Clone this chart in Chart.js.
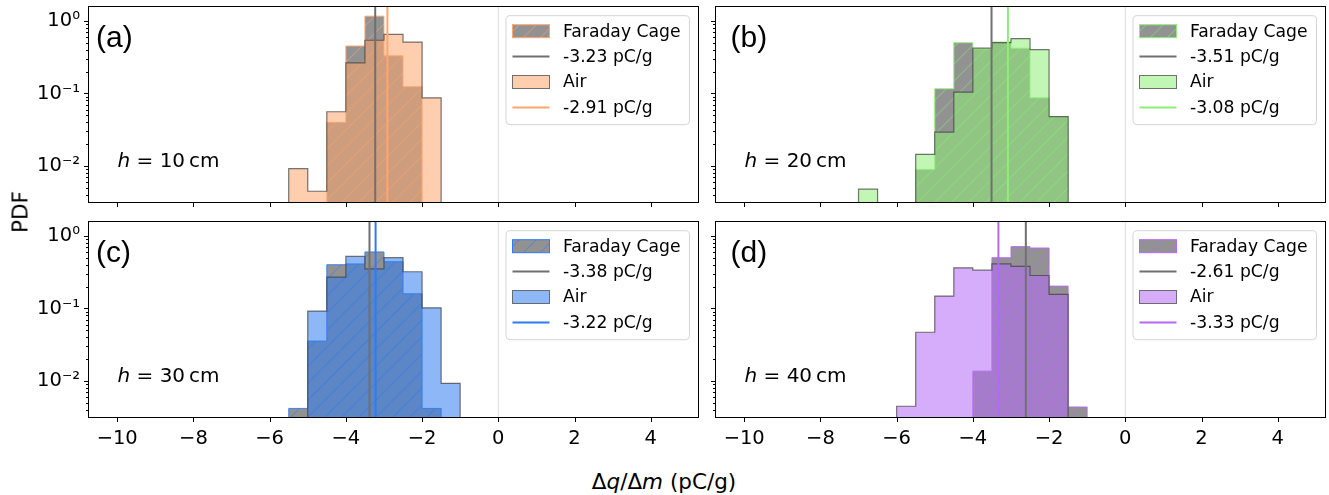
<!DOCTYPE html>
<html>
<head>
<meta charset="utf-8">
<script src="https://cdn.jsdelivr.net/npm/chart.js@4.4.0/dist/chart.umd.min.js"></script>
<style>
  html, body { margin: 0; padding: 0; background: #fff; }
  body { width: 1329px; height: 495px; position: relative; overflow: hidden; font-family: 'DejaVu Sans', sans-serif; }
  canvas { position: absolute; }
  .lbl { position: absolute; font-size: 21.5px; color: #000; white-space: nowrap; transform: translate(-50%, -50%); }
  #ylab { left: 20px; top: 212px; transform: translate(-50%, -50%) rotate(-90deg); }
  #xlab { left: 664px; top: 481px; }
</style>
</head>
<body>
<canvas id="pa" width="702" height="242" style="left:0px;top:0px"></canvas>
<canvas id="pb" width="702" height="242" style="left:627px;top:0px"></canvas>
<canvas id="pc" width="702" height="242" style="left:0px;top:215px"></canvas>
<canvas id="pd" width="702" height="242" style="left:627px;top:215px"></canvas>
<div class="lbl" id="ylab">PDF</div>
<div class="lbl" id="xlab">Δ<i>q</i>/Δ<i>m</i> (pC/g)</div>
<script>
// axes
const X_MIN = -10.74, X_MAX = 5.24;
const Y_MIN = 0.0032, Y_MAX = 1.55;
const X_TICKS = [-10, -8, -6, -4, -2, 0, 2, 4];
const Y_TICKS = [0.01, 0.1, 1];
const Y_TICK_LABELS = ['10⁻²', '10⁻¹', '10⁰'];
const FLOOR = 1e-4;  // below the axis, for empty bins

// (a) h = 10 cm
const EDGES_A = [-5.5, -5.0, -4.5, -4.0, -3.5, -3.0, -2.5, -2.0, -1.5];
const CAGE_A = [0, 0, 0.040, 0.45, 1.16, 0.33, 0.124, 0];
const AIR_A  = [0.0092, 0.0045, 0.056, 0.264, 0.54, 0.65, 0.51, 0.087];

// (b) h = 20 cm
const EDGES_B = [-7.0, -6.5, -6.0, -5.5, -5.0, -4.5, -4.0, -3.5, -3.0, -2.5, -2.0, -1.5];
const CAGE_B = [0, 0, 0, 0.009, 0.116, 0.50, 0.41, 0.51, 0.42, 0.087, 0.048];
const AIR_B  = [0.0048, 0, 0, 0.0145, 0.0294, 0.104, 0.42, 0.50, 0.57, 0.40, 0.048];

// (c) h = 30 cm
const EDGES_C = [-5.5, -5.0, -4.5, -4.0, -3.5, -3.0, -2.5, -2.0, -1.5, -1.0];
const CAGE_C = [0.0042, 0.0355, 0.40, 0.41, 0.60, 0.44, 0.159, 0.0042, 0];
const AIR_C  = [0, 0.092, 0.27, 0.52, 0.35, 0.50, 0.32, 0.102, 0.0093];

// (d) h = 40 cm
const EDGES_D = [-6.0, -5.5, -5.0, -4.5, -4.0, -3.5, -3.0, -2.5, -2.0, -1.5, -1.0];
const CAGE_D = [0, 0, 0, 0, 0.0137, 0.50, 0.71, 0.68, 0.203, 0.0044];
const AIR_D  = [0.0045, 0.047, 0.148, 0.363, 0.336, 0.41, 0.38, 0.284, 0.156, 0];

// means (pC/g)
const MEAN_CAGE = [-3.23, -3.51, -3.38, -2.61];
const MEAN_AIR  = [-2.91, -3.08, -3.22, -3.33];
const HEIGHTS_CM = [10, 20, 30, 40];
const TAGS = ['(a)', '(b)', '(c)', '(d)'];

// styles
const AIR_RGB = ['255,165,110', '144,238,120', '47,123,240', '180,105,245'];
const CAGE_FILL = 'rgba(110,110,110,0.75)';
const TICK_FONT = 19.5;
const LEGEND_FONT = 17.2;

Chart.defaults.font.family = "'DejaVu Sans'";
Chart.defaults.font.size = TICK_FONT;
Chart.defaults.color = '#000';

function stepPoints(edges, h) {
  const pts = [{ x: edges[0], y: FLOOR }];
  h.forEach((v, i) => pts.push({ x: edges[i], y: v > 0 ? v : FLOOR }));
  pts.push({ x: edges[edges.length - 1], y: FLOOR });
  return pts;
}

function vline(x) {
  return [{ x, y: FLOOR }, { x, y: 100 }];
}

function hatch(rgb) {
  const c = document.createElement('canvas');
  c.width = c.height = 17;
  const g = c.getContext('2d');
  g.fillStyle = CAGE_FILL;
  g.fillRect(0, 0, 17, 17);
  g.strokeStyle = `rgba(${rgb},0.45)`;
  g.lineWidth = 1.1;
  g.beginPath();
  [-17, 0, 17].forEach(o => { g.moveTo(o, 17); g.lineTo(o + 17, 0); });
  g.stroke();
  return g.createPattern(c, 'repeat');
}

// frame, tick marks, labels, legend
const deco = {
  id: 'deco',
  afterDraw(chart, args, o) {
    const { ctx, chartArea: a, scales: { x, y } } = chart;
    ctx.save();
    ctx.strokeStyle = '#000';
    ctx.lineWidth = 1;
    ctx.beginPath();
    X_TICKS.forEach(v => {
      const px = Math.round(x.getPixelForValue(v)) + 0.5;
      ctx.moveTo(px, a.bottom); ctx.lineTo(px, a.bottom + 5);
    });
    for (let k = -3; k <= 0; k++) {
      for (let m = 1; m <= 9; m++) {
        const v = m * Math.pow(10, k);
        if (v < Y_MIN || v > Y_MAX) continue;
        const py = Math.round(y.getPixelForValue(v)) + 0.5;
        ctx.moveTo(a.left, py); ctx.lineTo(a.left - (m === 1 ? 5 : 3), py);
      }
    }
    ctx.stroke();
    ctx.strokeRect(a.left - 0.5, a.top - 0.5, a.right - a.left + 1, a.bottom - a.top + 1);

    // panel tag
    ctx.fillStyle = '#000';
    ctx.textBaseline = 'alphabetic';
    ctx.textAlign = 'left';
    ctx.font = "30px 'Liberation Sans'";
    ctx.fillText(o.tag, a.left + o.tagDx, a.top + 40);

    // h = .. cm
    ctx.font = "italic 20px 'DejaVu Sans'";
    const hx = a.left + 28.5, hy = a.top + 159.5;
    ctx.fillText('h', hx, hy);
    const hw = ctx.measureText('h').width;
    ctx.font = "20px 'DejaVu Sans'";
    ctx.fillText(' = ' + o.height + '\u2009cm', hx + hw, hy);

    // legend
    const bw = 183.5, bh = 109;
    const bx = a.right - 8.5 - bw, by = a.top + 8.7;
    ctx.beginPath();
    ctx.roundRect(bx, by, bw, bh, 4);
    ctx.fillStyle = 'rgba(255,255,255,0.8)';
    ctx.fill();
    ctx.strokeStyle = '#d4d4d4';
    ctx.stroke();
    const rows = [
      { kind: 'patch', fill: o.pattern, edge: `rgb(${o.rgb})`, text: 'Faraday Cage' },
      { kind: 'line', color: '#707070', text: o.meanCage.toFixed(2) + ' pC/g' },
      { kind: 'patch', fill: `rgba(${o.rgb},0.55)`, edge: 'rgba(70,70,70,0.75)', text: 'Air' },
      { kind: 'line', color: `rgb(${o.rgb})`, text: o.meanAir.toFixed(2) + ' pC/g' }
    ];
    ctx.font = LEGEND_FONT + "px 'DejaVu Sans'";
    ctx.textBaseline = 'middle';
    rows.forEach((r, i) => {
      const cy = by + 15.5 + i * 25.4;
      if (r.kind === 'patch') {
        ctx.fillStyle = r.fill;
        ctx.fillRect(bx + 6.5, cy - 6.5, 37, 13);
        ctx.strokeStyle = r.edge;
        ctx.lineWidth = 1;
        ctx.strokeRect(bx + 6.5, cy - 6.5, 37, 13);
      } else {
        ctx.strokeStyle = r.color;
        ctx.lineWidth = 2;
        ctx.beginPath();
        ctx.moveTo(bx + 6.5, cy); ctx.lineTo(bx + 43.5, cy);
        ctx.stroke();
      }
      ctx.fillStyle = '#000';
      ctx.fillText(r.text, bx + 57, cy + 1);
    });
    ctx.restore();
  }
};

function makePanel(id, i, edges, cage, air, showX, showY, tagDx) {
  const rgb = AIR_RGB[i];
  const pattern = hatch(rgb);
  return new Chart(document.getElementById(id), {
    type: 'line',
    data: {
      datasets: [
        { data: vline(0), borderColor: '#dddddd', borderWidth: 1, order: 5 },
        { data: stepPoints(edges, cage), stepped: true, fill: 'start', backgroundColor: pattern,
          borderColor: `rgba(${rgb},0.9)`, borderWidth: 1, order: 4 },
        { data: stepPoints(edges, air), stepped: true, fill: 'start', backgroundColor: `rgba(${rgb},0.55)`,
          borderColor: 'rgba(60,60,60,0.7)', borderWidth: 1.2, order: 3 },
        { data: vline(MEAN_CAGE[i]), borderColor: '#707070', borderWidth: 2, order: 2 },
        { data: vline(MEAN_AIR[i]), borderColor: `rgb(${rgb})`, borderWidth: 2, order: 1 }
      ]
    },
    options: {
      responsive: false,
      animation: false,
      events: [],
      clip: 0,
      elements: { point: { radius: 0 }, line: { tension: 0 } },
      layout: { padding: { left: 0, right: 4, top: 7, bottom: 0 } },
      plugins: {
        legend: { display: false },
        tooltip: { enabled: false },
        deco: { tag: TAGS[i], tagDx, height: HEIGHTS_CM[i], rgb, pattern,
                meanCage: MEAN_CAGE[i], meanAir: MEAN_AIR[i] }
      },
      scales: {
        x: {
          type: 'linear', min: X_MIN, max: X_MAX,
          afterFit: s => { s.height = 40; s.paddingLeft = 0; s.paddingRight = 0; },
          afterBuildTicks: s => { s.ticks = X_TICKS.map(v => ({ value: v })); },
          ticks: { display: showX, autoSkip: false, maxRotation: 0, padding: 5,
                   callback: v => String(v).replace('-', '\u2212') },
          grid: { display: true, drawOnChartArea: false, color: 'rgba(0,0,0,0)', tickLength: 5 },
          border: { display: false }
        },
        y: {
          type: 'logarithmic', min: Y_MIN, max: Y_MAX,
          afterFit: s => { s.width = 89; s.paddingTop = 0; s.paddingBottom = 0; },
          afterBuildTicks: s => { s.ticks = Y_TICKS.map(v => ({ value: v })); },
          ticks: { display: showY, autoSkip: false, padding: 4,
                   callback: (v, k) => Y_TICK_LABELS[k] },
          grid: { display: true, drawOnChartArea: false, color: 'rgba(0,0,0,0)', tickLength: 5 },
          border: { display: false }
        }
      }
    },
    plugins: [deco]
  });
}

makePanel('pa', 0, EDGES_A, CAGE_A, AIR_A, false, true, 7);
makePanel('pb', 1, EDGES_B, CAGE_B, AIR_B, false, false, 14.5);
makePanel('pc', 2, EDGES_C, CAGE_C, AIR_C, true, true, 7);
makePanel('pd', 3, EDGES_D, CAGE_D, AIR_D, true, false, 14.5);
</script>
</body>
</html>
